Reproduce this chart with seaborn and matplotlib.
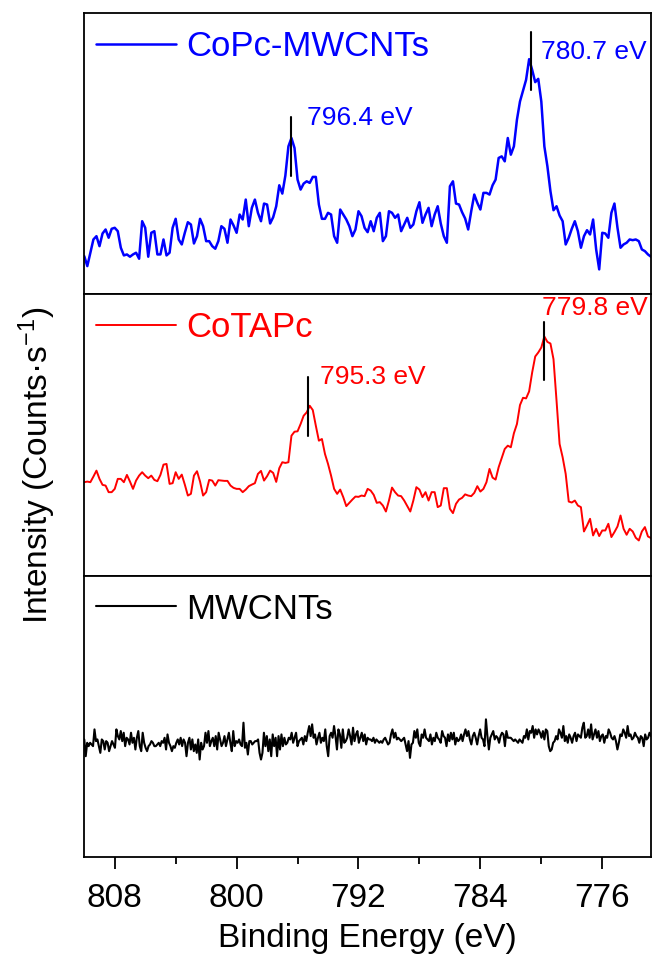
import numpy as np
import pandas as pd
import matplotlib
matplotlib.use("Agg")
import matplotlib.pyplot as plt
import seaborn as sns

# Co 2p XPS spectra, binding energy from 810.0 eV down to 772.8 eV
copc_mwcnt = [
    38.3, 28.3, 41.7, 55.0, 58.3, 48.3, 61.0, 65.0, 56.7, 65.7,
    66.7, 63.3, 46.7, 39.0, 40.0, 37.7, 40.0, 41.7, 35.7, 73.3,
    66.7, 37.7, 61.7, 63.3, 40.0, 40.0, 55.0, 39.0, 41.7, 66.7,
    75.7, 55.0, 50.0, 61.7, 72.3, 70.0, 51.0, 58.3, 75.7, 68.3,
    53.3, 53.3, 48.3, 45.7, 53.3, 68.3, 65.7, 51.7, 75.0, 69.0,
    61.7, 80.0, 75.0, 95.0, 68.3, 86.7, 95.0, 81.7, 73.3, 91.0,
    90.0, 71.0, 77.3, 88.3, 109.3, 101.0, 119.0, 148.3, 156.7, 146.7,
    115.0, 105.0, 111.0, 113.3, 111.7, 117.7, 117.7, 90.0, 75.7, 75.7,
    81.7, 80.0, 58.3, 51.7, 85.0, 80.0, 75.0, 68.3, 58.3, 65.0,
    83.3, 78.3, 66.7, 62.3, 73.3, 63.3, 76.7, 81.7, 53.3, 58.3,
    83.3, 81.7, 76.7, 80.0, 63.3, 70.0, 76.7, 66.7, 70.0, 83.3,
    92.3, 71.7, 80.0, 86.7, 68.3, 80.0, 88.3, 71.0, 58.3, 51.7,
    108.3, 113.3, 91.0, 90.0, 82.3, 76.0, 65.0, 83.3, 100.0, 91.7,
    85.0, 101.7, 101.7, 100.0, 109.3, 115.0, 136.7, 138.3, 133.3, 156.7,
    140.0, 148.3, 175.0, 193.3, 204.3, 215.0, 235.7, 225.0, 212.7, 216.0,
    193.3, 148.3, 128.3, 103.3, 84.3, 88.3, 79.0, 73.3, 50.0, 56.7,
    65.7, 73.3, 63.3, 46.7, 58.3, 64.3, 60.0, 75.0, 45.0, 25.0,
    61.7, 61.0, 56.7, 81.7, 91.0, 66.7, 46.7, 50.0, 51.7, 55.0,
    54.3, 55.0, 53.3, 45.0, 43.3, 40.0, 37.7,
]

cotapc = [
    93.7, 94.3, 93.7, 99.3, 105.3, 97.0, 91.0, 90.3, 83.7, 83.7,
    87.0, 97.0, 97.0, 93.7, 101.0, 94.3, 87.0, 95.3, 100.3, 103.7,
    100.3, 97.7, 100.3, 96.0, 94.7, 101.0, 111.3, 112.0, 92.0, 92.7,
    103.7, 97.0, 101.3, 91.3, 80.3, 82.0, 100.3, 104.7, 94.3, 80.3,
    83.7, 96.0, 95.3, 90.3, 95.7, 95.3, 95.0, 95.0, 90.3, 88.0,
    87.0, 87.0, 83.7, 86.3, 89.7, 91.3, 92.7, 102.0, 105.0, 95.3,
    99.7, 105.3, 103.0, 94.0, 107.7, 113.7, 113.0, 113.7, 140.3, 144.3,
    144.7, 152.0, 160.3, 163.7, 170.3, 166.0, 150.3, 135.3, 137.0, 122.0,
    112.0, 100.3, 87.0, 82.0, 86.3, 78.7, 69.7, 73.0, 76.3, 79.3,
    79.0, 80.3, 79.7, 87.0, 85.3, 81.0, 73.0, 73.7, 70.3, 64.3,
    75.3, 88.3, 83.7, 80.3, 79.7, 75.3, 69.7, 64.3, 75.3, 88.7,
    86.3, 78.7, 83.7, 75.3, 83.7, 83.7, 68.7, 70.3, 87.7, 87.7,
    67.0, 62.7, 72.0, 76.3, 78.0, 81.5, 80.3, 79.7, 83.0, 89.7,
    84.3, 87.0, 93.7, 107.0, 98.3, 96.3, 108.7, 117.7, 127.0, 130.3,
    128.7, 142.7, 152.0, 171.0, 178.3, 177.7, 184.7, 203.7, 219.7, 223.7,
    228.7, 239.7, 234.3, 232.7, 217.0, 175.3, 132.0, 118.7, 102.0, 74.3,
    73.3, 75.3, 70.3, 68.7, 44.3, 50.3, 57.0, 40.3, 47.0, 39.7,
    45.3, 45.3, 52.0, 38.7, 43.7, 49.3, 60.3, 47.0, 41.0, 47.0,
    44.3, 38.0, 35.3, 44.3, 48.7, 39.3, 37.7,
]

mwcnt = [
    420, 370, 410, 400,
    410, 405, 400, 450, 415, 420, 400, 380,
    420, 415, 390, 415, 410, 385, 400, 415, 405, 395,
    450, 430, 420, 445, 415, 440, 400, 425, 420, 405,
    440, 410, 425, 390, 425, 445, 400, 385, 440, 410,
    395, 385, 400, 405, 415, 410, 400, 400, 405, 410,
    400, 415, 410, 425, 390, 435, 410, 400, 385, 400,
    395, 410, 420, 405, 425, 400, 420, 410, 370, 410,
    425, 390, 420, 385, 405, 380, 420, 360, 410, 390,
    400, 440, 410, 445, 400, 415, 425, 400, 430, 390,
    440, 420, 400, 410, 430, 400, 420, 440, 410, 385,
    445, 400, 415, 410, 420, 405, 400, 470, 395, 410,
    375, 415, 415, 405, 410, 415, 415, 420, 380, 360,
    380, 440, 400, 430, 385, 420, 370, 435, 400, 425,
    370, 430, 390, 435, 400, 425, 405, 410, 425, 420,
    440, 410, 425, 440, 400, 415, 420, 425, 405, 430,
    415, 440, 460, 430, 465, 425, 435, 405, 425, 440,
    410, 425, 415, 450, 400, 370, 430, 440, 425, 460,
    430, 390, 450, 435, 395, 450, 410, 415, 425, 450,
    430, 405, 455, 415, 435, 445, 410, 425, 440, 415,
    435, 405, 425, 420, 420, 415, 425, 410, 420, 415,
    410, 415, 410, 420, 425, 415, 405, 410, 435, 450,
    425, 440, 420, 425, 420, 415, 420, 425, 405, 385,
    415, 365, 405, 410, 445, 425, 450, 410, 400, 435,
    425, 450, 425, 420, 415, 435, 405, 425, 415, 440,
    425, 420, 410, 445, 430, 425, 400, 435, 415, 440,
    420, 440, 405, 425, 415, 420, 435, 415, 435, 450,
    430, 445, 420, 405, 430, 440, 425, 405, 430, 450,
    425, 420, 400, 480, 430, 390, 425, 435, 445, 420,
    430, 425, 410, 430, 440, 435, 400, 445, 425, 425,
    425, 420, 415, 420, 415, 410, 420, 415, 410, 430,
    425, 450, 420, 445, 440, 460, 425, 450, 435, 450,
    440, 425, 445, 420, 450, 445, 400, 385, 390, 410,
    415, 430, 420, 450, 440, 425, 460, 415, 430, 410,
    435, 425, 410, 430, 440, 415, 435, 430, 425, 455,
    470, 425, 430, 450, 425, 465, 420, 435, 450, 425,
    445, 415, 430, 435, 410, 430, 425, 450, 440, 425,
    420, 430, 415, 390, 410, 435, 430, 450, 440, 425,
    460, 430, 435, 420, 425, 440, 430, 425, 410, 430,
    425, 400, 435, 420, 425, 440, 430,
]

sample_names = ["CoPc-MWCNTs", "CoTAPc", "MWCNTs"]
sample_colors = ["#0000ff", "#ff0000", "#000000"]
line_widths = [1.8, 1.4, 1.5]
intensity_ranges = [(0, 282), (0, 282), (69, 909)]

# peak positions (eV) with the marker span and label height on each panel
peak_labels = {
    0: [(796.4, 119, 178, 795.4, 177), (780.7, 205, 263, 780.0, 243)],
    1: [(795.3, 140, 199, 794.5, 199), (779.8, 196, 254, 779.95, 268)],
}

major_ticks = [808, 800, 792, 784, 776]
minor_ticks = [804, 796, 788, 780]

sns.set_style("ticks")
plt.rcParams["font.family"] = ["Liberation Sans", "DejaVu Sans"]
plt.rcParams["mathtext.fontset"] = "custom"
plt.rcParams["mathtext.rm"] = "Liberation Sans"
plt.rcParams["mathtext.it"] = "Liberation Sans:italic"
plt.rcParams["text.color"] = "black"
plt.rcParams["axes.labelcolor"] = "black"
plt.rcParams["xtick.color"] = "black"
plt.rcParams["xtick.labelcolor"] = "black"

fig = plt.figure(figsize=(6.53, 9.59), dpi=100)
gs = fig.add_gridspec(3, 1, left=83.5 / 653, right=651 / 653,
                      top=1 - 13 / 959, bottom=1 - 857 / 959, hspace=0)
axes = []
for i in range(3):
    ax = fig.add_subplot(gs[i], sharex=axes[0] if axes else None)
    axes.append(ax)

spectra = [copc_mwcnt, cotapc, mwcnt]
for i, (ax, values) in enumerate(zip(axes, spectra)):
    energy = np.linspace(810.0, 772.8, len(values))
    df = pd.DataFrame({"energy": energy, "intensity": values})
    sns.lineplot(data=df, x="energy", y="intensity", ax=ax,
                 color=sample_colors[i], linewidth=line_widths[i],
                 estimator=None, sort=False, label=sample_names[i])
    ax.set_ylim(*intensity_ranges[i])
    ax.set_yticks([])
    ax.set_ylabel("")
    ax.set_xlabel("")
    for sp in ax.spines.values():
        sp.set_linewidth(1.3)
        sp.set_color("black")
    ax.legend(loc="upper left", bbox_to_anchor=(0.022, 0.94), frameon=False,
              handlelength=2.3, handletextpad=0.3, borderpad=0,
              borderaxespad=0, fontsize=25, labelcolor="linecolor")
    for pos, y0, y1, tx, ty in peak_labels.get(i, []):
        ax.plot([pos, pos], [y0, y1], color="black", linewidth=1.5)
        ax.text(tx, ty, f"{pos:.1f} eV", color=sample_colors[i],
                fontsize=19, ha="left", va="center", clip_on=False)

axes[0].set_xlim(810.05, 772.8)
axes[2].set_xticks(major_ticks)
axes[2].set_xticks(minor_ticks, minor=True)
for ax in axes[:2]:
    ax.tick_params(axis="x", which="both", bottom=False, labelbottom=False)
axes[2].tick_params(axis="x", which="major", direction="out", length=8.5,
                    width=1.3, labelsize=24, pad=10, color="black")
axes[2].tick_params(axis="x", which="minor", direction="out", length=5,
                    width=1.3, color="black")
axes[2].set_xlabel("Binding Energy (eV)", fontsize=24, labelpad=7)

fig.text(37 / 653, 1 - 465 / 959, "Intensity (Counts\u00b7s$^{-1}$)",
         rotation=90, ha="center", va="center", fontsize=24)

fig.savefig("out.png", dpi=100)
